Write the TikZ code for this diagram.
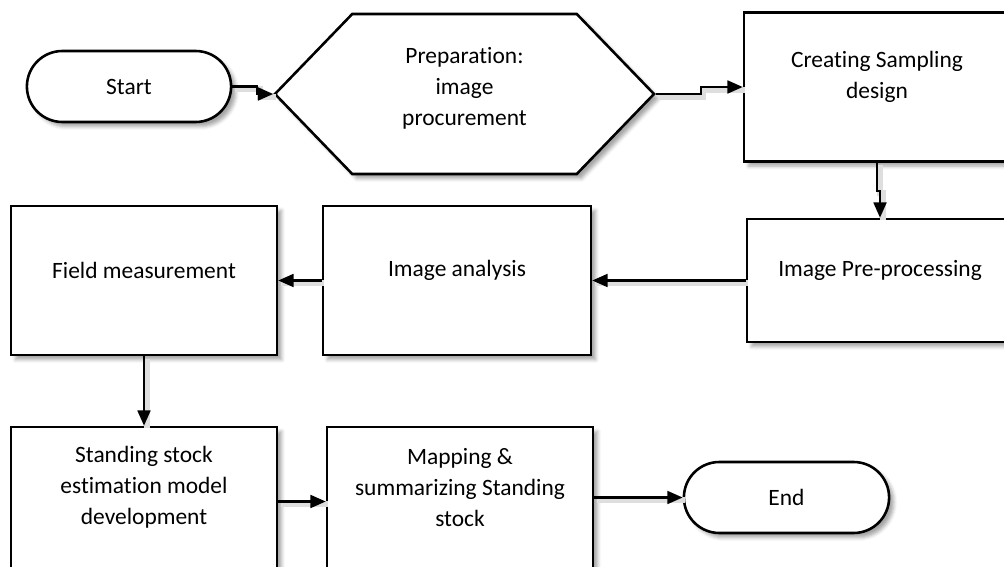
\documentclass[tikz,border=0pt]{standalone}
\usepackage{fontspec}
\setmainfont{Carlito}[Ligatures=NoCommon]
\usetikzlibrary{arrows.meta, shapes.misc, shapes.symbols, shadows.blur}

\begin{document}
\begin{tikzpicture}[
      x=0.03cm, y=-0.03cm,
      font=\fontsize{20}{26.4}\selectfont,
      base/.style={draw, line width=2.2pt, fill=white, align=center,
        blur shadow={shadow xshift=4pt, shadow yshift=-4pt, shadow blur radius=3pt, shadow opacity=35}},
      terminal/.style={base, rounded rectangle, minimum width=6.36cm, minimum height=2.13cm},
      prepbox/.style={base, signal, signal to=east and west, signal pointer angle=92,
        minimum width=11.37cm, minimum height=4.8cm, inner sep=0pt},
      box/.style={base, rectangle, minimum width=7.98cm, minimum height=4.47cm},
      conn/.style={line width=1.8pt, -{Triangle[length=13pt, width=11pt]},
        preaction={draw=black!13, line width=5pt, -, transform canvas={shift={(2.2pt,-2.2pt)}}}}
    ]
      \useasboundingbox (0,0) rectangle (1004,567);
      \clip (0,0) rectangle (1004,567);

      % top row
      \node[terminal] (start) at (129,86.5) {Start};
      \node[prepbox] (prep) at (464.5,94) {};
      \node[align=center, yshift=0.16cm] at (prep) {Preparation:\\image\\procurement};
      \node[box] (create) at (877,87) {};
      \node[align=center, yshift=0.3cm] at (create) {Creating Sampling\\design};

      % middle row
      \node[box, minimum height=3.69cm] (prepro) at (880,280.5) {};
      \node[yshift=0.3cm] at (prepro) {Image Pre-processing};
      \node[box, minimum width=8.04cm] (analysis) at (457,280.5) {};
      \node[yshift=0.3cm] at (analysis) {Image analysis};
      \node[box] (field) at (144,280.5) {};
      \node[yshift=0.3cm] at (field) {Field measurement};

      % bottom row
      \node[box] (standing) at (144,501.5) {};
      \node[align=center, yshift=0.42cm] at (standing) {Standing stock\\estimation model\\development};
      \node[box] (mapping) at (460,501.5) {};
      \node[align=center, yshift=0.42cm] at (mapping) {Mapping \&\\summarizing Standing\\stock};
      \node[terminal, minimum width=6.39cm] (end) at (786.5,497.5) {End};

      % connectors
      \draw[conn] (start.east) -- ++(25,0) |- (prep.west);
      \draw[conn] (prep.east) -- ++(45,0) |- (create.west);
      \draw[conn] (create.south) -- ++(0,28) -| (prepro.north);
      \draw[conn] (prepro.west) -- (analysis.east);
      \draw[conn] (analysis.west) -- (field.east);
      \draw[conn] (field.south) -- (standing.north);
      \draw[conn] (standing.east) -- (mapping.west);
      \draw[conn] (mapping.east |- end.west) -- (end.west);
    \end{tikzpicture}
\end{document}
